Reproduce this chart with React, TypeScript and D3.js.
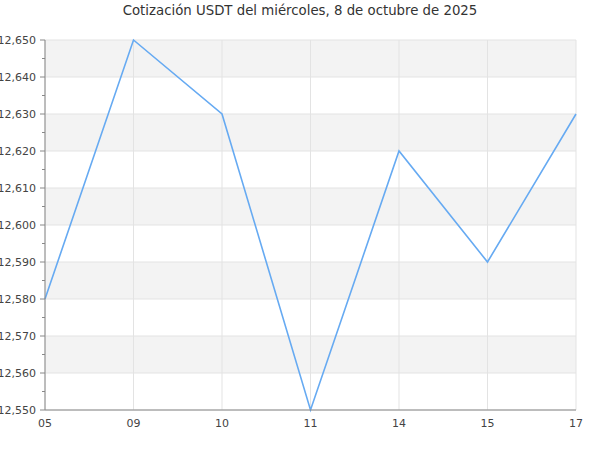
import React from "react";
import * as d3 from "d3";

const title = "Cotización USDT del miércoles, 8 de octubre de 2025";
const categories = ["05", "09", "10", "11", "14", "15", "17"];
const values = [12580, 12650, 12630, 12550, 12620, 12590, 12630];
const yTicks = [12550, 12560, 12570, 12580, 12590, 12600, 12610, 12620, 12630, 12640, 12650];

export default function App() {
  const W = 600, H = 450;
  const m = { left: 45, right: 576, top: 40, bottom: 410 };
  const x = d3.scalePoint<string>().domain(categories).range([m.left, m.right]);
  const y = d3.scaleLinear().domain([12550, 12650]).range([m.bottom, m.top]);
  const fmt = d3.format(",");
  const line = d3.line<number>().x((_, i) => x(categories[i])!).y((d) => y(d));
  const minor = yTicks.slice(0, -1).map((t) => t + 5);
  const font = "'DejaVu Sans', sans-serif";
  return (
    <svg width={W} height={H} style={{ position: "absolute", left: 0, top: 0 }} fontFamily={font}>
      <rect width={W} height={H} fill="#fff" />
      {yTicks.slice(0, -1).map((t, i) =>
        i % 2 === 1 ? (
          <rect key={"b" + t} x={m.left} width={m.right - m.left} y={y(t + 10)} height={y(t) - y(t + 10)} fill="#f3f3f3" />
        ) : null
      )}
      {yTicks.map((t) => (
        <line key={"gy" + t} x1={m.left} x2={m.right} y1={y(t)} y2={y(t)} stroke="#e3e3e3" />
      ))}
      {categories.map((c) => (
        <line key={"gx" + c} x1={x(c)} x2={x(c)} y1={m.top} y2={m.bottom} stroke="#e3e3e3" />
      ))}
      <path d={line(values)!} fill="none" stroke="#66aaf2" strokeWidth={1.6} />
      <line x1={m.left} x2={m.left} y1={m.top} y2={m.bottom} stroke="#888" />
      <line x1={m.left} x2={m.right} y1={m.bottom} y2={m.bottom} stroke="#888" />
      {yTicks.map((t) => (
        <g key={"ty" + t}>
          <line x1={m.left - 5} x2={m.left} y1={y(t)} y2={y(t)} stroke="#888" />
          <text x={36} y={y(t)} dy="0.35em" textAnchor="end" fontSize={11} fill="#444">
            {fmt(t)}
          </text>
        </g>
      ))}
      {minor.map((t) => (
        <line key={"mt" + t} x1={m.left - 3} x2={m.left} y1={y(t)} y2={y(t)} stroke="#888" />
      ))}
      {categories.map((c) => (
        <text key={"tx" + c} x={x(c)} y={427} textAnchor="middle" fontSize={11} fill="#444">
          {c}
        </text>
      ))}
      <text x={300} y={15} textAnchor="middle" fontSize={13.3} fill="#333">
        {title}
      </text>
    </svg>
  );
}
